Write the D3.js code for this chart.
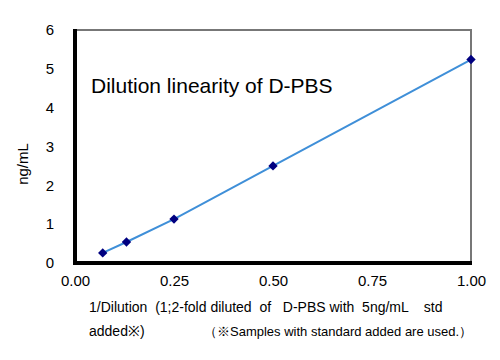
<!DOCTYPE html>
<html><head><meta charset="utf-8">
<script src="https://cdn.jsdelivr.net/npm/d3@7"></script>
<style>
html,body{margin:0;padding:0;background:#fff;}
svg{display:block;font-family:"Liberation Sans",Arial,sans-serif;}
text{white-space:pre;}
</style></head>
<body>
<svg id="c" width="500" height="360"></svg>
<script>
const xValues = [0.07, 0.13, 0.25, 0.5, 1.0];
const yValues = [0.26, 0.54, 1.13, 2.5, 5.24];
const xTicks = [0, 0.25, 0.5, 0.75, 1.0];
const yTicks = [0, 1, 2, 3, 4, 5, 6];
const chartTitle = "Dilution linearity of D-PBS";
const yTitle = "ng/mL";
const xTitle1 = "1/Dilution  (1;2-fold diluted  of   D-PBS with  5ng/mL    std";
const xTitle2a = "added※)";
const xTitle2b = "（※Samples with standard added are used.）";

const svg = d3.select("#c");
const L = 75, R = 471, T = 30, B = 263;
const x = d3.scaleLinear().domain([0, 1]).range([L, R]);
const y = d3.scaleLinear().domain([0, 6]).range([B, T]);

// axes (labels only)
const xAxis = d3.axisBottom(x).tickValues(xTicks).tickSize(0).tickPadding(12)
  .tickFormat(d3.format(".2f"));
const gx = svg.append("g").attr("transform", `translate(0,${B})`).call(xAxis);
const yAxis = d3.axisLeft(y).tickValues(yTicks).tickSize(0).tickPadding(21)
  .tickFormat(d3.format("d"));
const gy = svg.append("g").attr("transform", `translate(${L},0)`).call(yAxis);
[gx, gy].forEach(g => {
  g.select(".domain").remove();
  g.selectAll("text").attr("font-size", 15).attr("fill", "#000")
    .attr("font-family", "'Liberation Sans', Arial, sans-serif");
});

// frame: top & right grey, left & bottom thick black
svg.append("rect").attr("x", x(0)).attr("y", y(6) - 1).attr("width", x(1) - x(0) + 1).attr("height", 2)
  .attr("fill", "#777");
svg.append("rect").attr("x", x(1) - 1).attr("y", y(6) - 1).attr("width", 2).attr("height", y(0) - y(6) + 1)
  .attr("fill", "#777");
svg.append("rect").attr("x", x(0) - 2).attr("y", y(6) - 1).attr("width", 4).attr("height", y(0) - y(6) + 3)
  .attr("fill", "#000");
svg.append("rect").attr("x", x(0) - 2).attr("y", y(0) - 2).attr("width", x(1) - x(0) + 3).attr("height", 4)
  .attr("fill", "#000");

// line
const line = d3.line().x((d, i) => x(xValues[i])).y(d => y(d));
svg.append("path").datum(yValues).attr("d", line)
  .attr("fill", "none").attr("stroke", "#3f8fd8").attr("stroke-width", 2);

// markers
svg.selectAll(".pt").data(yValues).join("path").attr("class", "pt")
  .attr("d", d3.symbol().type(d3.symbolDiamond2).size(56))
  .attr("transform", (d, i) => `translate(${x(xValues[i])},${y(d)})`)
  .attr("fill", "#000080");

// title
svg.append("text").attr("x", 91).attr("y", 93).attr("font-size", 21)
  .attr("fill", "#000").text(chartTitle);

// y title
svg.append("text").attr("transform", "translate(28,164) rotate(-90)")
  .attr("text-anchor", "middle").attr("font-size", 15).attr("fill", "#000").text(yTitle);

// x title
svg.append("text").attr("x", 89).attr("y", 312).attr("font-size", 14)
  .attr("fill", "#000").text(xTitle1);
svg.append("text").attr("x", 89).attr("y", 336).attr("font-size", 14)
  .attr("fill", "#000").text(xTitle2a);
svg.append("text").attr("x", 204).attr("y", 336).attr("font-size", 13)
  .attr("fill", "#000").text(xTitle2b);
</script>
</body></html>
